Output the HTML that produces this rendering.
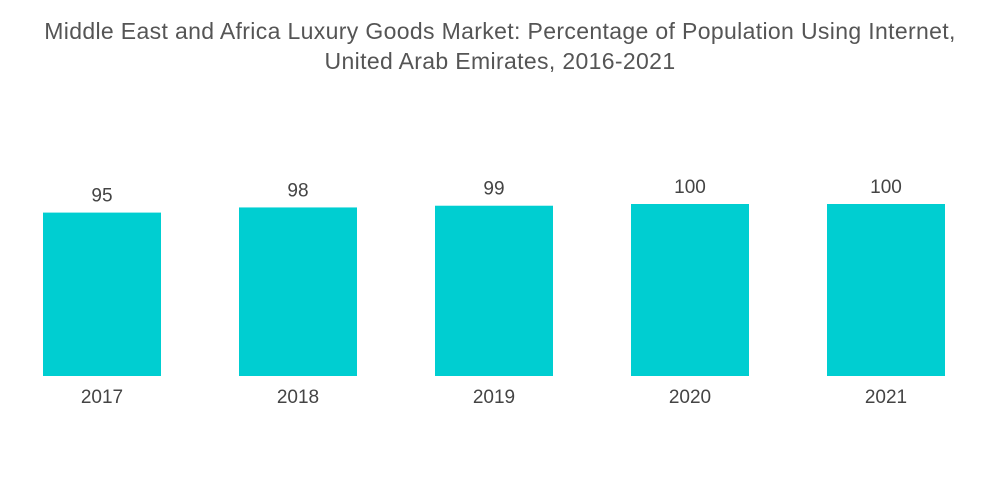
<!DOCTYPE html>
<html><head><meta charset="utf-8"><style>
body{margin:0;background:#fff;font-family:"Liberation Sans",sans-serif;}
#wrap{position:relative;width:1000px;height:504px;overflow:hidden;}
#title{position:absolute;left:0;top:16px;width:1000px;text-align:center;color:#555;font-size:23px;letter-spacing:0.35px;line-height:30px;}
</style></head><body>
<div id="wrap">
<div id="title">Middle East and Africa Luxury Goods Market: Percentage of Population Using Internet,<br>United Arab Emirates, 2016-2021</div>
<svg id="svg" width="1000" height="504" style="position:absolute;left:0;top:0"></svg>
</div>
<script>
const categories=["2017","2018","2019","2020","2021"];
const values=[95,98,99,100,100];
const svg=document.getElementById('svg');
const NS='http://www.w3.org/2000/svg';
const baseY=376, unit=1.72, x0=43, step=196, bw=118;
function xPos(i){return x0+i*step;}
function yPos(v){return baseY-v*unit;}
categories.forEach((c,i)=>{
  const r=document.createElementNS(NS,'rect');
  r.setAttribute('x',xPos(i));r.setAttribute('y',yPos(values[i]));
  r.setAttribute('width',bw);r.setAttribute('height',baseY-yPos(values[i]));
  r.setAttribute('fill','#00ced1');
  
  
  svg.appendChild(r);
  const t=document.createElementNS(NS,'text');
  t.setAttribute('x',xPos(i)+bw/2);t.setAttribute('y',yPos(values[i])-11);
  t.setAttribute('text-anchor','middle');t.setAttribute('font-size','19');t.setAttribute('fill','#444');
  t.textContent=values[i];
  
  
  svg.appendChild(t);
  const l=document.createElementNS(NS,'text');
  l.setAttribute('x',xPos(i)+bw/2);l.setAttribute('y',403);
  l.setAttribute('text-anchor','middle');l.setAttribute('font-size','19');l.setAttribute('fill','#444');
  l.textContent=c;
  
  
  svg.appendChild(l);
});
</script>
</body></html>
